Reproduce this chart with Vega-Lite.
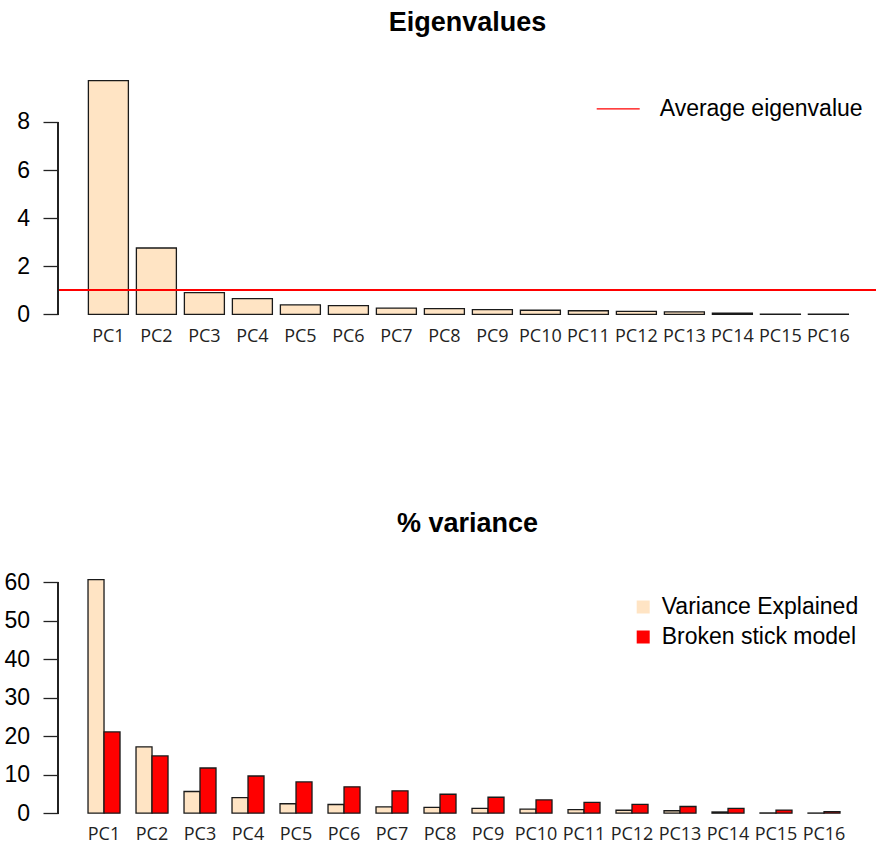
{
  "$schema": "https://vega.github.io/schema/vega-lite/v6.json",
  "background": "white",
  "padding": {"left": 3, "top": 9, "right": 0, "bottom": 0},
  "config": {
    "view": {"stroke": null},
    "font": "Liberation Sans",
    "axis": {"grid": false}
  },
  "datasets": {
    "eigen": [
      {"pc": "PC1", "eigenvalue": 9.72},
      {"pc": "PC2", "eigenvalue": 2.76},
      {"pc": "PC3", "eigenvalue": 0.90},
      {"pc": "PC4", "eigenvalue": 0.65},
      {"pc": "PC5", "eigenvalue": 0.39},
      {"pc": "PC6", "eigenvalue": 0.36},
      {"pc": "PC7", "eigenvalue": 0.26},
      {"pc": "PC8", "eigenvalue": 0.24},
      {"pc": "PC9", "eigenvalue": 0.20},
      {"pc": "PC10", "eigenvalue": 0.17},
      {"pc": "PC11", "eigenvalue": 0.15},
      {"pc": "PC12", "eigenvalue": 0.12},
      {"pc": "PC13", "eigenvalue": 0.10},
      {"pc": "PC14", "eigenvalue": 0.05},
      {"pc": "PC15", "eigenvalue": 0.01},
      {"pc": "PC16", "eigenvalue": 0.005}
    ],
    "variance": [
      {"pc": "PC1", "series": "Variance Explained", "pct": 60.75},
      {"pc": "PC1", "series": "Broken stick model", "pct": 21.13},
      {"pc": "PC2", "series": "Variance Explained", "pct": 17.25},
      {"pc": "PC2", "series": "Broken stick model", "pct": 14.88},
      {"pc": "PC3", "series": "Variance Explained", "pct": 5.63},
      {"pc": "PC3", "series": "Broken stick model", "pct": 11.75},
      {"pc": "PC4", "series": "Variance Explained", "pct": 4.06},
      {"pc": "PC4", "series": "Broken stick model", "pct": 9.67},
      {"pc": "PC5", "series": "Variance Explained", "pct": 2.44},
      {"pc": "PC5", "series": "Broken stick model", "pct": 8.11},
      {"pc": "PC6", "series": "Variance Explained", "pct": 2.25},
      {"pc": "PC6", "series": "Broken stick model", "pct": 6.86},
      {"pc": "PC7", "series": "Variance Explained", "pct": 1.63},
      {"pc": "PC7", "series": "Broken stick model", "pct": 5.82},
      {"pc": "PC8", "series": "Variance Explained", "pct": 1.50},
      {"pc": "PC8", "series": "Broken stick model", "pct": 4.92},
      {"pc": "PC9", "series": "Variance Explained", "pct": 1.25},
      {"pc": "PC9", "series": "Broken stick model", "pct": 4.14},
      {"pc": "PC10", "series": "Variance Explained", "pct": 1.06},
      {"pc": "PC10", "series": "Broken stick model", "pct": 3.45},
      {"pc": "PC11", "series": "Variance Explained", "pct": 0.94},
      {"pc": "PC11", "series": "Broken stick model", "pct": 2.82},
      {"pc": "PC12", "series": "Variance Explained", "pct": 0.75},
      {"pc": "PC12", "series": "Broken stick model", "pct": 2.26},
      {"pc": "PC13", "series": "Variance Explained", "pct": 0.63},
      {"pc": "PC13", "series": "Broken stick model", "pct": 1.73},
      {"pc": "PC14", "series": "Variance Explained", "pct": 0.31},
      {"pc": "PC14", "series": "Broken stick model", "pct": 1.25},
      {"pc": "PC15", "series": "Variance Explained", "pct": 0.06},
      {"pc": "PC15", "series": "Broken stick model", "pct": 0.81},
      {"pc": "PC16", "series": "Variance Explained", "pct": 0.03},
      {"pc": "PC16", "series": "Broken stick model", "pct": 0.39}
    ]
  },
  "spacing": 164,
  "vconcat": [
    {
      "width": 819,
      "height": 252.7,
      "title": {"text": "Eigenvalues", "font": "Liberation Sans", "fontSize": 27, "fontWeight": "bold", "color": "black", "anchor": "middle", "baseline": "alphabetic", "offset": 12.7},
      "data": {"name": "eigen"},
      "layer": [
        {
          "mark": {"type": "bar", "fill": "#FFE4C4", "stroke": "#1a1a1a", "strokeWidth": 1.3},
          "encoding": {
            "x": {
              "field": "pc", "type": "nominal",
              "scale": {"domain": ["PC1","PC2","PC3","PC4","PC5","PC6","PC7","PC8","PC9","PC10","PC11","PC12","PC13","PC14","PC15","PC16"], "paddingInner": 0.1667, "paddingOuter": 0.6146, "align": 0.515},
              "axis": {"title": null, "domain": false, "ticks": false, "tickSize": 0, "labelAngle": 0, "labelFont": "Open Sans", "labelFontSize": 18, "labelColor": "#222", "labelBaseline": "alphabetic", "labelPadding": 17.3}
            },
            "y": {
              "field": "eigenvalue", "type": "quantitative",
              "scale": {"domain": [-0.389, 10.12], "nice": false, "zero": false},
              "axis": {"title": null, "values": [0, 2, 4, 6, 8], "domain": false, "tickSize": 15, "tickWidth": 1.3, "tickColor": "#222", "labelPadding": 13.5, "labelFont": "Liberation Sans", "labelFontSize": 23, "labelColor": "black"}
            },
            "y2": {"datum": 0}
          }
        },
        {
          "mark": {"type": "rule", "strokeWidth": 1.3},
          "encoding": {
            "y": {"datum": 1, "type": "quantitative"},
            "stroke": {
              "datum": "Average eigenvalue", "type": "nominal",
              "scale": {"range": ["red"]},
              "legend": {"title": null, "orient": "none", "legendX": 537.7, "legendY": 15.3, "padding": 0, "symbolType": "stroke", "symbolSize": 1849, "symbolStrokeWidth": 1.3, "labelFont": "Liberation Sans", "labelFontSize": 23, "labelColor": "black", "labelOffset": 19, "labelLimit": 500}
            }
          }
        },
        {
          "mark": {"type": "rule", "color": "#222", "strokeWidth": 1.3},
          "encoding": {
            "x": {"datum": 0, "type": "quantitative", "scale": {"domain": [0, 1]}, "axis": null},
            "y": {"datum": 0, "type": "quantitative"},
            "y2": {"datum": 8}
          }
        }
      ],
      "resolve": {"scale": {"x": "independent"}}
    },
    {
      "width": 819,
      "height": 252.5,
      "title": {"text": "% variance", "font": "Liberation Sans", "fontSize": 27, "fontWeight": "bold", "color": "black", "anchor": "middle", "baseline": "alphabetic", "offset": 11.5},
      "data": {"name": "variance"},
      "layer": [
        {
          "mark": {"type": "bar", "stroke": "#1a1a1a", "strokeWidth": 1.3},
          "encoding": {
            "x": {
              "field": "pc", "type": "nominal",
              "scale": {"domain": ["PC1","PC2","PC3","PC4","PC5","PC6","PC7","PC8","PC9","PC10","PC11","PC12","PC13","PC14","PC15","PC16"], "paddingInner": 0.3333, "paddingOuter": 0.698, "align": 0.448},
              "axis": {"title": null, "domain": false, "ticks": false, "tickSize": 0, "labelAngle": 0, "labelFont": "Open Sans", "labelFontSize": 18, "labelColor": "#222", "labelBaseline": "alphabetic", "labelPadding": 17.3}
            },
            "xOffset": {
              "field": "series", "type": "nominal",
              "scale": {"domain": ["Variance Explained", "Broken stick model"], "paddingInner": 0, "paddingOuter": 0}
            },
            "y": {
              "field": "pct", "type": "quantitative",
              "scale": {"domain": [-2.43, 63.24], "nice": false, "zero": false},
              "axis": {"title": null, "values": [0, 10, 20, 30, 40, 50, 60], "domain": false, "tickSize": 15, "tickWidth": 1.3, "tickColor": "#222", "labelPadding": 13.5, "labelFont": "Liberation Sans", "labelFontSize": 23, "labelColor": "black"}
            },
            "y2": {"datum": 0},
            "color": {
              "field": "series", "type": "nominal",
              "scale": {"domain": ["Variance Explained", "Broken stick model"], "range": ["#FFE4C4", "red"]},
              "legend": {"title": null, "orient": "none", "legendX": 573.7, "legendY": 524.5, "padding": 0, "symbolType": "square", "symbolSize": 169, "symbolStrokeWidth": 0, "symbolOpacity": 1, "labelFont": "Liberation Sans", "labelFontSize": 23, "labelColor": "black", "labelOffset": 7, "rowPadding": 6, "labelLimit": 500}
            }
          }
        },
        {
          "mark": {"type": "rule", "color": "#222", "strokeWidth": 1.3},
          "encoding": {
            "x": {"datum": 0, "type": "quantitative", "scale": {"domain": [0, 1]}, "axis": null},
            "y": {"datum": 0, "type": "quantitative"},
            "y2": {"datum": 60}
          }
        }
      ],
      "resolve": {"scale": {"x": "independent"}}
    }
  ]
}
